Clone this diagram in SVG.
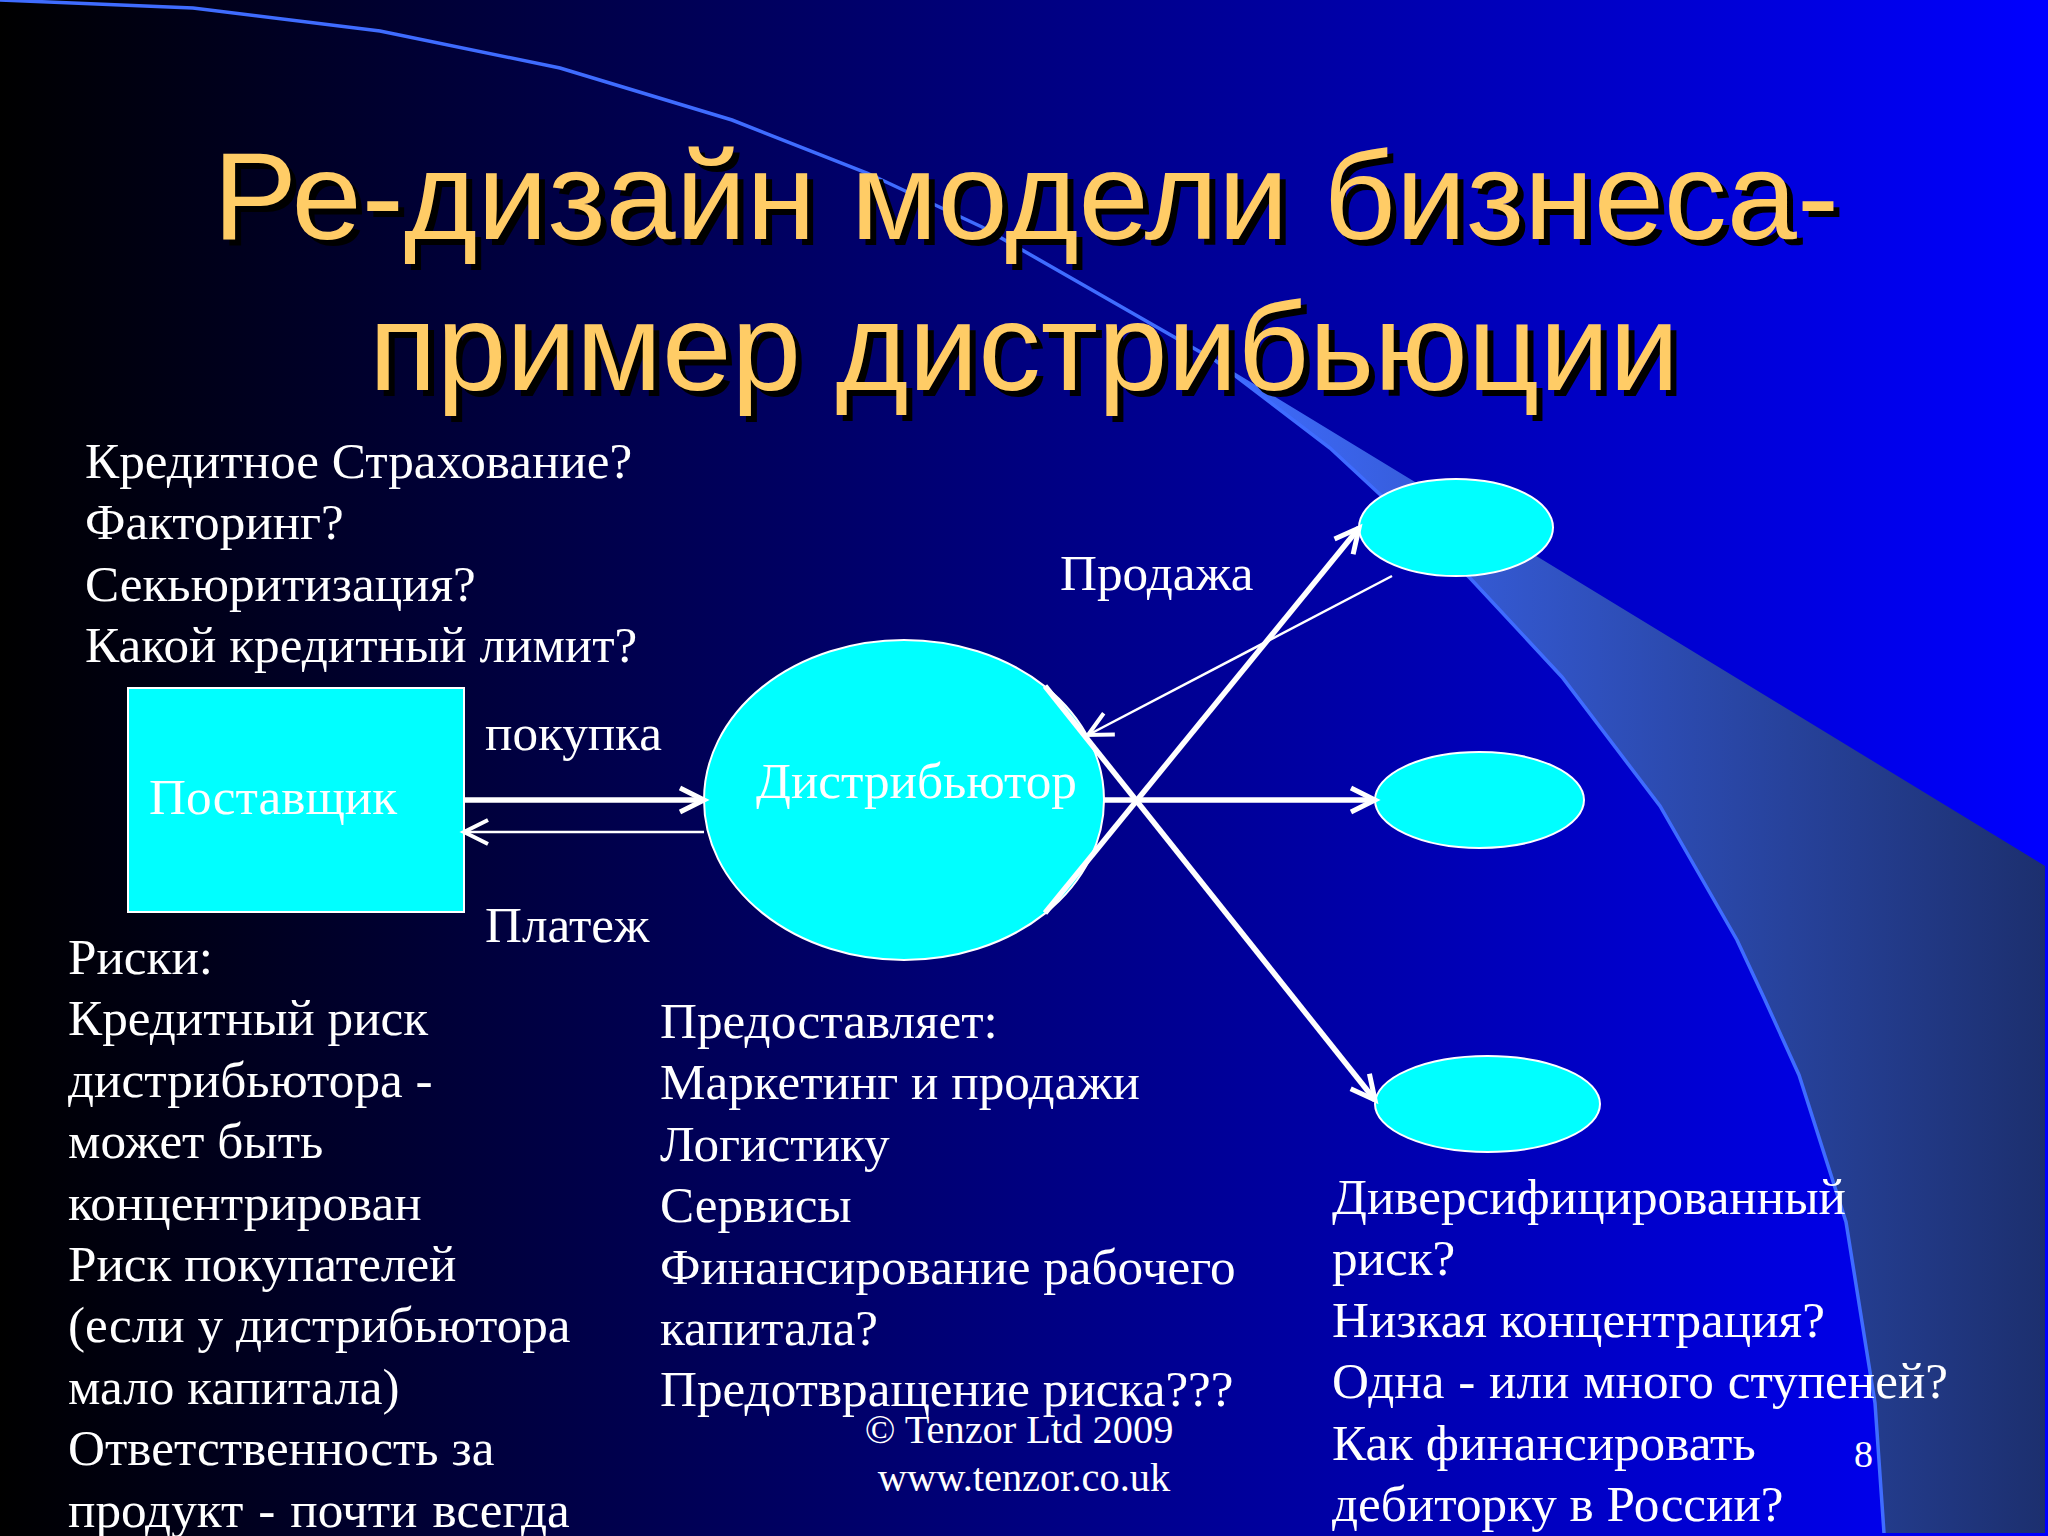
<svg xmlns="http://www.w3.org/2000/svg" width="2048" height="1536" viewBox="0 0 2048 1536">
<defs>
<linearGradient id="bg" x1="0" y1="0" x2="1" y2="0"><stop offset="0" stop-color="#000000"/><stop offset="1" stop-color="#0000ff"/></linearGradient>
<linearGradient id="sw" gradientUnits="userSpaceOnUse" x1="1216" y1="0" x2="2048" y2="0"><stop offset="0" stop-color="#3f6cff"/><stop offset="1" stop-color="#1c2f6e"/></linearGradient>
<marker id="thick" markerUnits="userSpaceOnUse" markerWidth="40" markerHeight="40" refX="26" refY="14" orient="auto" overflow="visible"><path d="M2 2L26 14L2 26" fill="none" stroke="#fff" stroke-width="5"/></marker>
<marker id="thin" markerUnits="userSpaceOnUse" markerWidth="40" markerHeight="40" refX="26" refY="14" orient="auto" overflow="visible"><path d="M2 2L26 14L2 26" fill="none" stroke="#fff" stroke-width="4"/></marker>
</defs>
<style>
.shape{fill:#00ffff;stroke:#fff;stroke-width:2}
.t{font-family:"Liberation Serif","Noto Sans",serif;font-size:51.2px;fill:#fff}
.f{font-size:40.4px}
.ti{font-family:"Liberation Sans",Arial,sans-serif;font-size:125px;text-anchor:middle}
.big{fill:none;stroke:#fff;stroke-width:5.5}
.small{fill:none;stroke:#fff;stroke-width:2.5}
</style>
<rect width="2048" height="1536" fill="url(#bg)"/>
<path d="M1216 361L1330 448L1470 578L1562 677L1660 806L1737 940L1765 1000L1799 1075L1846 1222L1875 1403L1884 1533L2045 1533L2045 866L1415 482Z" fill="url(#sw)"/>
<path d="M0 0L193 8L380 31L560 68L732 120L867 173L982 227L1216 361L1330 448L1470 578L1562 677L1660 806L1737 940L1765 1000L1799 1075L1846 1222L1875 1403L1884 1533" fill="none" stroke="#3f6cff" stroke-width="3.5"/>
<g id="title">
<text class="ti" x="1032" y="245" fill="#000" textLength="1626" lengthAdjust="spacingAndGlyphs">Ре-дизайн модели бизнеса-</text>
<text class="ti" x="1030" y="396" fill="#000" textLength="1310" lengthAdjust="spacingAndGlyphs">пример дистрибьюции</text>
<text class="ti" x="1026" y="239" fill="#ffcc66" textLength="1626" lengthAdjust="spacingAndGlyphs">Ре-дизайн модели бизнеса-</text>
<text class="ti" x="1024" y="390" fill="#ffcc66" textLength="1310" lengthAdjust="spacingAndGlyphs">пример дистрибьюции</text>
</g>
<g id="postavshchik"><rect class="shape" x="128" y="688" width="336" height="224"/><text class="t" x="149" y="814">Поставщик</text></g>
<g id="distributor"><ellipse class="shape" cx="904" cy="800" rx="200" ry="160"/><text class="t" x="756" y="798">Дистрибьютор</text></g>
<g id="client1"><ellipse class="shape" cx="1456" cy="527.5" rx="97" ry="48.5"/></g>
<g id="client2"><ellipse class="shape" cx="1479.5" cy="800" rx="104.5" ry="48"/></g>
<g id="client3"><ellipse class="shape" cx="1487.5" cy="1104" rx="112.5" ry="48"/></g>
<g id="connectors">
<line class="big" x1="464" y1="800" x2="704" y2="800" marker-end="url(#thick)"/>
<line class="small" x1="704" y1="832" x2="464" y2="832" marker-end="url(#thin)"/>
<line class="big" x1="1104" y1="800" x2="1375" y2="800" marker-end="url(#thick)"/>
<line class="big" x1="1045" y1="913" x2="1359" y2="528" marker-end="url(#thick)"/>
<line class="big" x1="1045" y1="686" x2="1375" y2="1100" marker-end="url(#thick)"/>
<line class="small" x1="1392" y1="576" x2="1088" y2="735" marker-end="url(#thin)"/>
</g>
<g id="labels">
<text class="t" y="478"><tspan x="85">Кредитное Страхование?</tspan><tspan x="85" dy="61.4">Факторинг?</tspan><tspan x="85" dy="61.4">Секьюритизация?</tspan><tspan x="85" dy="61.4">Какой кредитный лимит?</tspan></text>
<text class="t" x="1060" y="590">Продажа</text>
<text class="t" x="485" y="750">покупка</text>
<text class="t" x="485" y="942">Платеж</text>
<text class="t" y="974"><tspan x="68">Риски:</tspan><tspan x="68" dy="61.4">Кредитный риск</tspan><tspan x="68" dy="61.4">дистрибьютора -</tspan><tspan x="68" dy="61.4">может быть</tspan><tspan x="68" dy="61.4">концентрирован</tspan><tspan x="68" dy="61.4">Риск покупателей</tspan><tspan x="68" dy="61.4">(если у дистрибьютора</tspan><tspan x="68" dy="61.4">мало капитала)</tspan><tspan x="68" dy="61.4">Ответственность за</tspan><tspan x="68" dy="61.4" style="word-spacing:2.2px">продукт - почти всегда</tspan></text>
<text class="t" y="1038"><tspan x="660">Предоставляет:</tspan><tspan x="660" dy="61.4">Маркетинг и продажи</tspan><tspan x="660" dy="61.4">Логистику</tspan><tspan x="660" dy="61.4">Сервисы</tspan><tspan x="660" dy="61.4">Финансирование рабочего</tspan><tspan x="660" dy="61.4">капитала?</tspan><tspan x="660" dy="61.4">Предотвращение риска???</tspan></text>
<text class="t" y="1214"><tspan x="1332">Диверсифицированный</tspan><tspan x="1332" dy="61.4">риск?</tspan><tspan x="1332" dy="61.4">Низкая концентрация?</tspan><tspan x="1332" dy="61.4" style="word-spacing:1px">Одна - или много ступеней?</tspan><tspan x="1332" dy="61.4">Как финансировать</tspan><tspan x="1332" dy="61.4">дебиторку в России?</tspan></text>
<text class="t f" text-anchor="middle" y="1443"><tspan x="1019">© Tenzor Ltd 2009</tspan><tspan x="1024" dy="48">www.tenzor.co.uk</tspan></text>
<text class="t" style="font-size:38px" x="1854" y="1467">8</text>
</g>
</svg>
